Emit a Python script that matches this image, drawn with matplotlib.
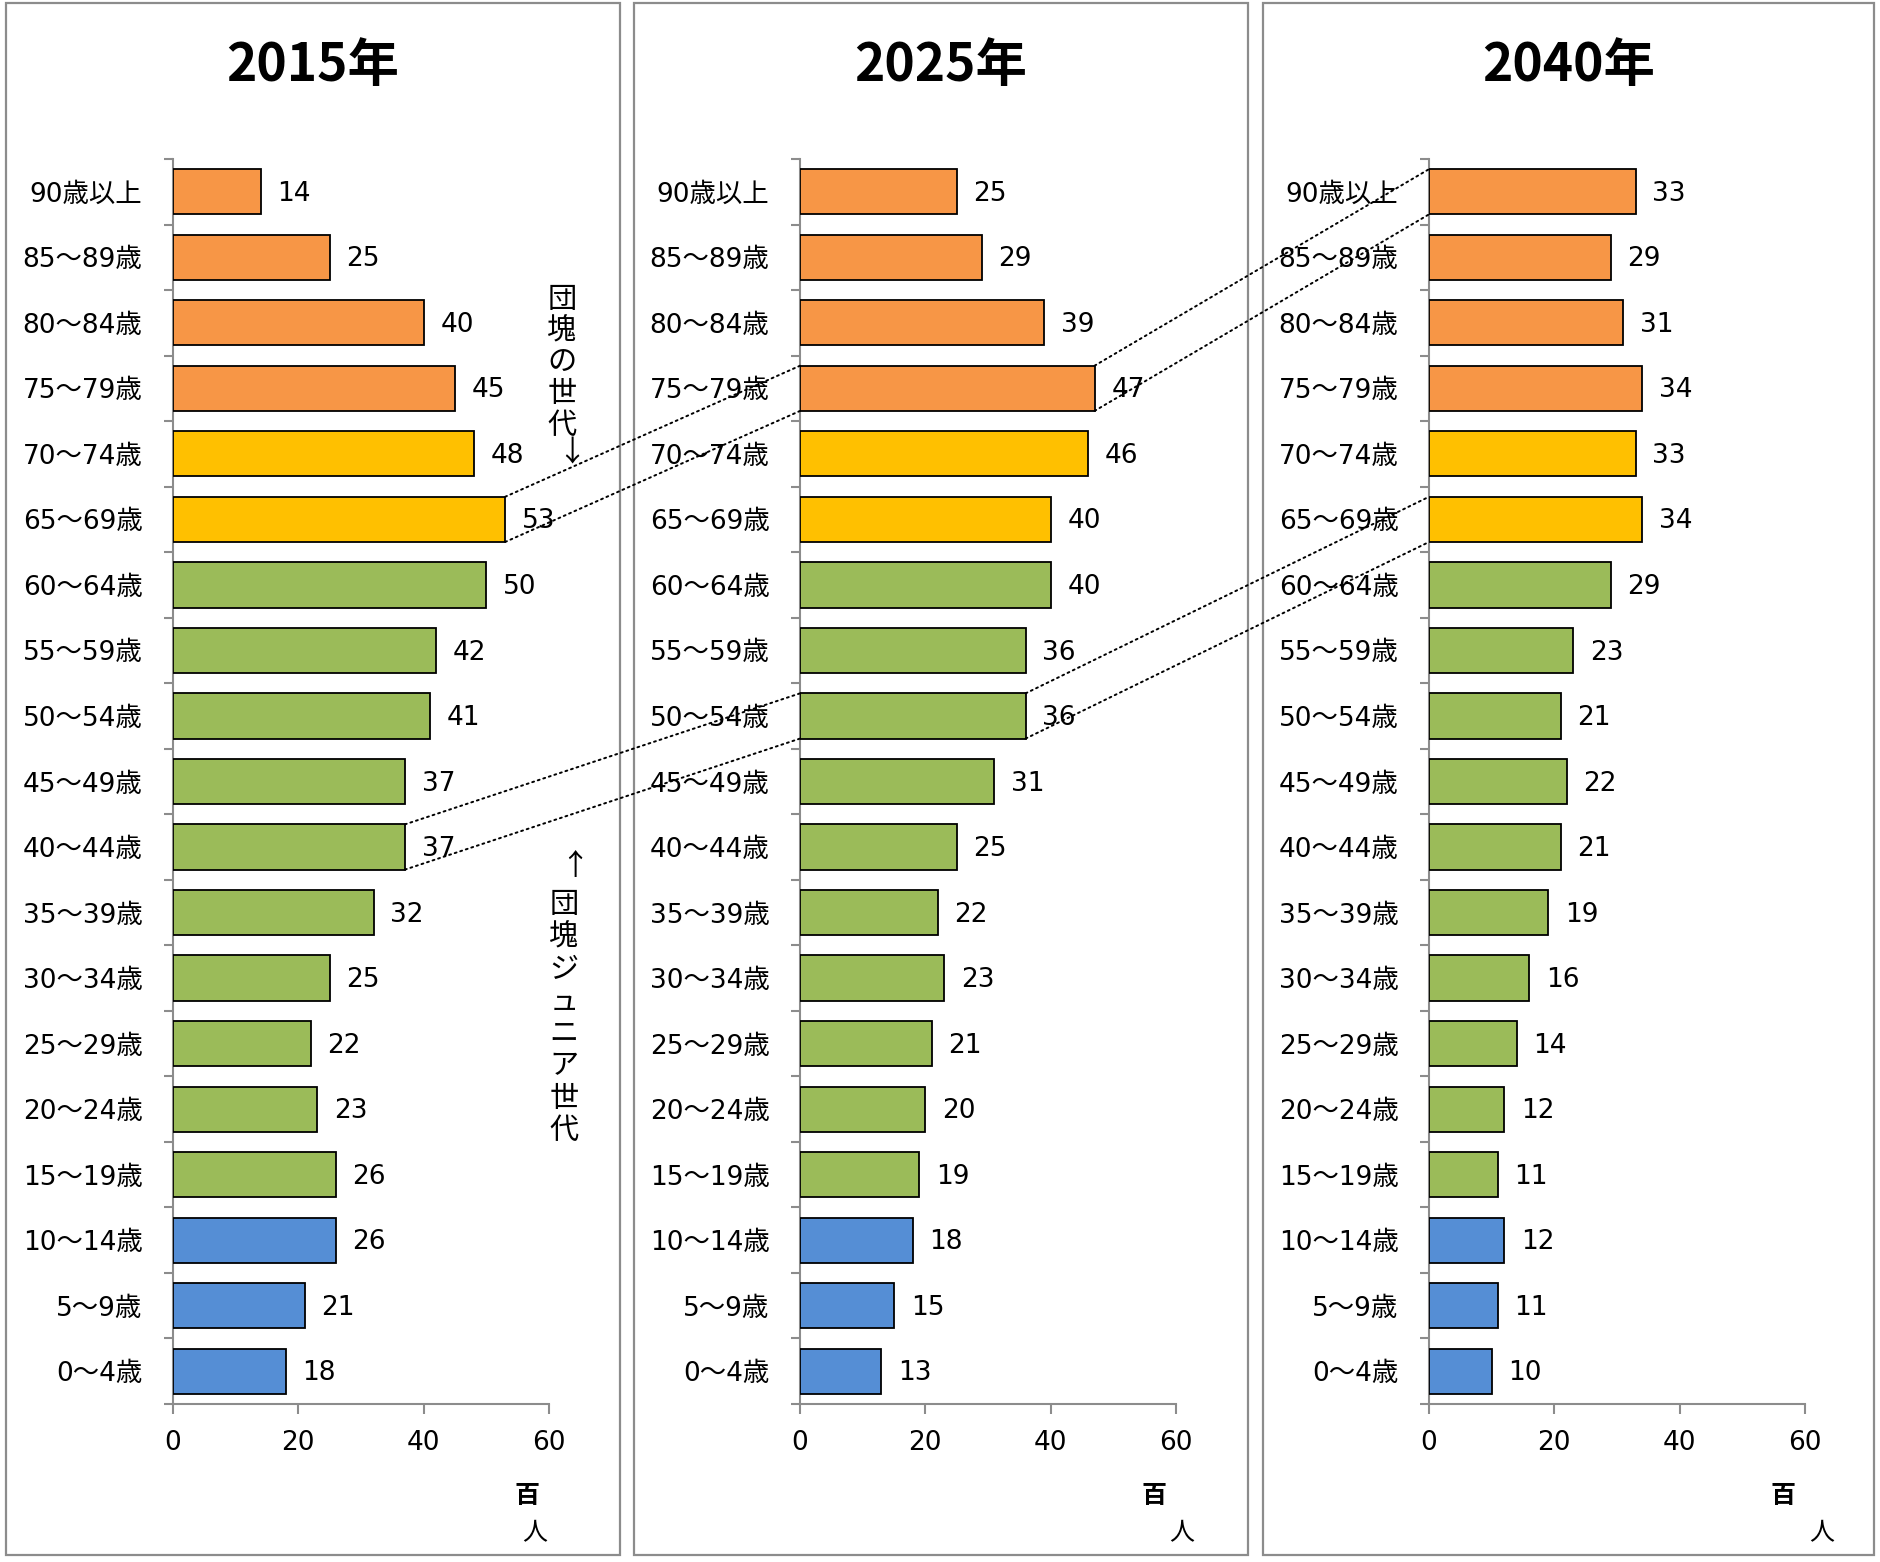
import matplotlib
matplotlib.use('Agg')
import matplotlib.pyplot as plt
from matplotlib.patches import Rectangle, ConnectionPatch
from matplotlib.transforms import ScaledTranslation
import numpy as np

plt.rcParams['font.family'] = ['DejaVu Sans', 'Noto Sans CJK JP']

# ---------------- data ----------------
categories = ['90歳以上', '85～89歳', '80～84歳', '75～79歳', '70～74歳', '65～69歳',
              '60～64歳', '55～59歳', '50～54歳', '45～49歳', '40～44歳', '35～39歳',
              '30～34歳', '25～29歳', '20～24歳', '15～19歳', '10～14歳', '5～9歳', '0～4歳']
years = ['2015年', '2025年', '2040年']
pop_2015 = [14, 25, 40, 45, 48, 53, 50, 42, 41, 37, 37, 32, 25, 22, 23, 26, 26, 21, 18]
pop_2025 = [25, 29, 39, 47, 46, 40, 40, 36, 36, 31, 25, 22, 23, 21, 20, 19, 18, 15, 13]
pop_2040 = [33, 29, 31, 34, 33, 34, 29, 23, 21, 22, 21, 19, 16, 14, 12, 11, 12, 11, 10]
age_groups = ['75+'] * 4 + ['65-74'] * 2 + ['15-64'] * 10 + ['0-14'] * 3
group_colors = {'75+': '#F79646', '65-74': '#FFC000', '15-64': '#9BBB59', '0-14': '#558ED5'}
x_ticks = [0, 20, 40, 60]
unit_top = '百'
unit_bottom = '人'
dankai_label = '団塊の世代'
junior_label = '団塊ジュニア世代'
dankai_cohort = ['65～69歳', '75～79歳', '90歳以上']
junior_cohort = ['40～44歳', '50～54歳', '65～69歳']

series = [pop_2015, pop_2025, pop_2040]

# ---------------- layout ----------------
W, H = 1881, 1562
fig = plt.figure(figsize=(W / 100, H / 100), dpi=100)


def fx(px):
    return px / W


def fy(py):
    return 1 - py / H


gray = '#8C8C8C'
panel_lefts = [6, 634, 1263]
panel_rights = [620, 1248, 1874]
axis_lefts = [173, 800, 1429]
unit_bottom_x = [57.7, 60.9, 62.7]
axis_w = 376
ax_top, ax_bottom = 159, 1404
bar_h = 0.69
n = len(categories)
ypos = np.arange(n)
bar_colors = [group_colors[g] for g in age_groups]

axes = []
for k in range(3):
    l, r = panel_lefts[k], panel_rights[k]
    fig.patches.append(Rectangle((fx(l), fy(1555)), fx(r - l), (1555 - 3) / H,
                                 transform=fig.transFigure, fill=False,
                                 edgecolor=gray, lw=1.6))
    fig.text(fx((l + r) / 2), fy(66), years[k], ha='center', va='center',
             fontsize=37, fontweight='bold', family=['Noto Sans CJK JP', 'DejaVu Sans'])

    ax = fig.add_axes([fx(axis_lefts[k]), fy(ax_bottom), axis_w / W, (ax_bottom - ax_top) / H])
    ax.patch.set_alpha(0)
    vals = series[k]
    ax.barh(ypos, vals, height=bar_h, color=bar_colors, edgecolor='black', linewidth=1.3, zorder=3)
    ax.set_xlim(0, 60)
    ax.set_ylim(n - 0.5, -0.5)
    ax.set_yticks(ypos)
    ax.set_yticklabels(categories, fontsize=19, va='center_baseline')
    shift = ScaledTranslation(0, 5 / 100, fig.dpi_scale_trans)
    for lab in ax.get_yticklabels():
        lab.set_transform(lab.get_transform() + shift)
    ax.set_yticks(np.arange(-0.5, n, 1), minor=True)
    ax.tick_params(axis='y', which='major', length=0, pad=22)
    ax.tick_params(axis='y', which='minor', length=6.5, width=1.5, color=gray, direction='out')
    ax.set_xticks(x_ticks)
    ax.set_xticklabels([str(t) for t in x_ticks], fontsize=19)
    ax.tick_params(axis='x', length=7, width=1.5, color=gray, pad=12)
    for s in ['top', 'right']:
        ax.spines[s].set_visible(False)
    for s in ['left', 'bottom']:
        ax.spines[s].set_color(gray)
        ax.spines[s].set_linewidth(1.5)
    for i, v in enumerate(vals):
        ax.annotate(str(v), (v, i), xytext=(12, -1.5), textcoords='offset points',
                    ha='left', va='center', fontsize=19, zorder=4)
    ax.text(56.5, -0.074, unit_top, transform=ax.get_xaxis_transform(), ha='center', va='center',
            fontsize=18, fontweight='bold', family=['Noto Sans CJK JP', 'DejaVu Sans'])
    ax.text(unit_bottom_x[k], -0.104, unit_bottom, transform=ax.get_xaxis_transform(),
            ha='center', va='center', fontsize=18, family=['Noto Sans CJK JP', 'DejaVu Sans'])
    axes.append(ax)

# ---------------- cohort connecting lines ----------------
for cohort in [dankai_cohort, junior_cohort]:
    for k in range(2):
        ia = categories.index(cohort[k])
        ib = categories.index(cohort[k + 1])
        va = series[k][ia]
        for off in (-bar_h / 2, bar_h / 2):
            con = ConnectionPatch(xyA=(va, ia + off), coordsA=axes[k].transData,
                                  xyB=(0, ib + off), coordsB=axes[k + 1].transData,
                                  linestyle=(0, (1, 2)), color='black', lw=1.4, zorder=10)
            fig.add_artist(con)

# ---------------- vertical annotations ----------------
vfont = dict(fontsize=21, ha='center', va='center', family=['Noto Sans CJK JP', 'DejaVu Sans'])
for j, ch in enumerate(dankai_label):
    fig.text(fx(562), fy(300 + 31.5 * j), ch, **vfont)
fig.text(fx(572), fy(453), '↓', **vfont)

fig.text(fx(575), fy(867), '↑', **vfont)
for j, ch in enumerate(junior_label):
    fig.text(fx(564), fy(905 + 32.3 * j), ch, **vfont)

fig.savefig('out.png', dpi=100)
